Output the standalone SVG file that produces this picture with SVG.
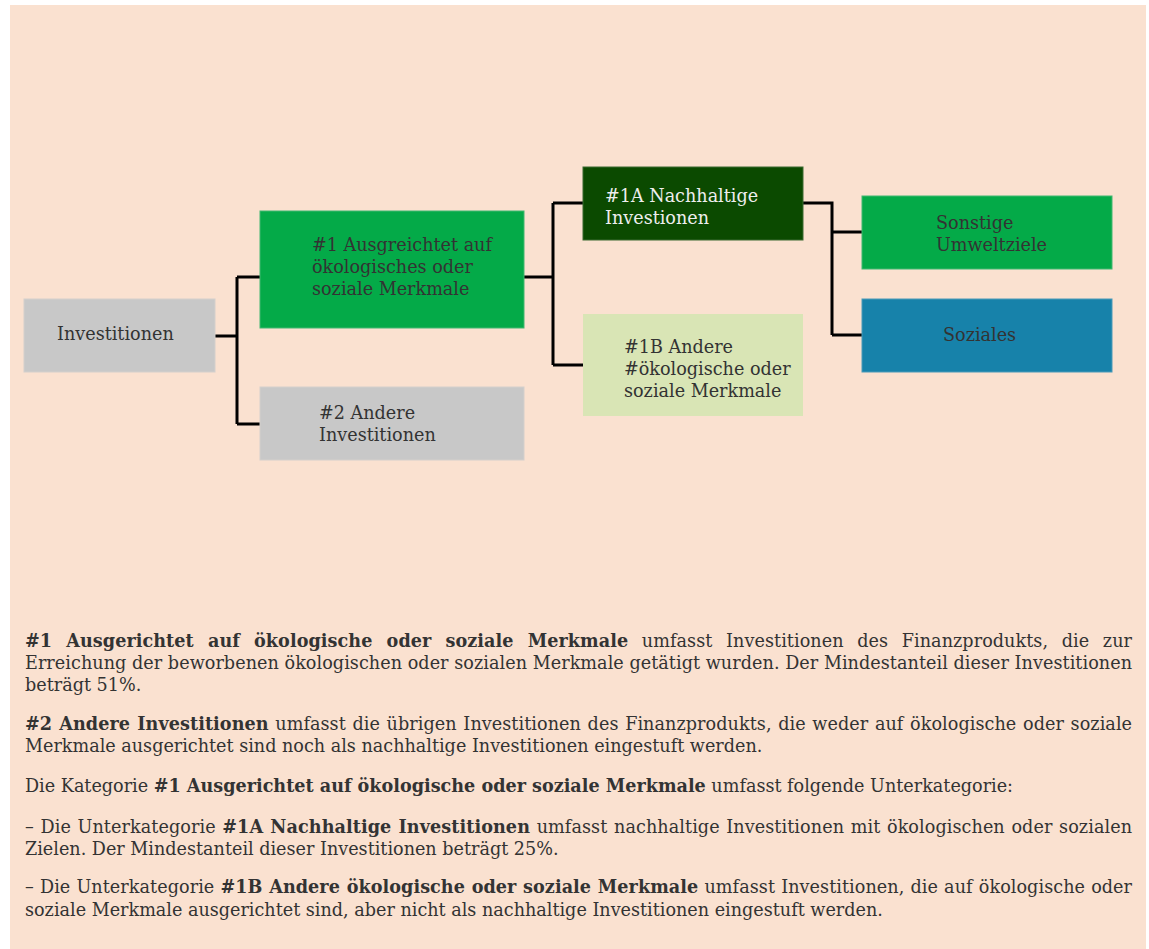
<svg xmlns="http://www.w3.org/2000/svg" width="1149" height="949" viewBox="0 0 1149 949">
<style>
text{font-family:"DejaVu Serif","Liberation Serif",serif;font-size:17.6px;fill:#333333}
.b{font-weight:bold}
.w{fill:#EEEEEE}
.conn{fill:none;stroke:#000000;stroke-width:3}
</style>
<rect x="0" y="0" width="1149" height="949" fill="#FFFFFF"/>
<rect x="10" y="5" width="1136" height="944" fill="#FAE1D0"/>
<g id="connectors" class="conn">
<path d="M215 336H237M237 277V424M237 277H260M237 424H260"/>
<path d="M524 277H553M553 203V365M553 203H583M553 365H583"/>
<path d="M803 203H832V335M832 232H862M832 335H862"/>
</g>
<g id="n-investitionen"><rect x="24" y="299" width="191" height="73" fill="#C8C8C8" stroke="#D4D0CC"/><text x="57" y="340">Investitionen</text></g>
<g id="n-1"><rect x="260" y="211" width="264" height="117" fill="#04AA48" stroke="#40B870"/><text x="312" y="251">#1 Ausgreichtet auf</text><text x="312" y="273">ökologisches oder</text><text x="312" y="295">soziale Merkmale</text></g>
<g id="n-2"><rect x="260" y="387" width="264" height="73" fill="#C8C8C8" stroke="#D4D0CC"/><text x="319" y="419">#2 Andere</text><text x="319" y="441">Investitionen</text></g>
<g id="n-1a"><rect x="583" y="167" width="220" height="73" fill="#0B4A00" stroke="#3A6A30"/><text class="w" x="605" y="202">#1A Nachhaltige</text><text class="w" x="605" y="224">Investionen</text></g>
<g id="n-1b"><rect x="583" y="314" width="220" height="102" fill="#D9E5B5"/><text x="624" y="353">#1B Andere</text><text x="624" y="375">#ökologische oder</text><text x="624" y="397">soziale Merkmale</text></g>
<g id="n-sonstige"><rect x="862" y="196" width="250" height="73" fill="#04AA48" stroke="#40B870"/><text x="936" y="229">Sonstige</text><text x="936" y="251">Umweltziele</text></g>
<g id="n-soziales"><rect x="862" y="299" width="250" height="73" fill="#1782AA" stroke="#4A9AB8"/><text x="943" y="341">Soziales</text></g>
<g id="legend">
<text x="25" y="647" word-spacing="8" textLength="1107" lengthAdjust="spacing"><tspan class="b">#1 Ausgerichtet auf ökologische oder soziale Merkmale</tspan> umfasst Investitionen des Finanzprodukts, die zur</text>
<text x="25" y="669" textLength="1107" lengthAdjust="spacing">Erreichung der beworbenen ökologischen oder sozialen Merkmale getätigt wurden. Der Mindestanteil dieser Investitionen</text>
<text x="25" y="691">beträgt 51%.</text>
<text x="25" y="730" word-spacing="1" textLength="1107" lengthAdjust="spacing"><tspan class="b">#2 Andere Investitionen</tspan> umfasst die übrigen Investitionen des Finanzprodukts, die weder auf ökologische oder soziale</text>
<text x="25" y="752">Merkmale ausgerichtet sind noch als nachhaltige Investitionen eingestuft werden.</text>
<text x="25" y="792">Die Kategorie <tspan class="b">#1 Ausgerichtet auf ökologische oder soziale Merkmale</tspan> umfasst folgende Unterkategorie:</text>
<text x="25" y="833" word-spacing="1" textLength="1107" lengthAdjust="spacing">– Die Unterkategorie <tspan class="b">#1A Nachhaltige Investitionen</tspan> umfasst nachhaltige Investitionen mit ökologischen oder sozialen</text>
<text x="25" y="855">Zielen. Der Mindestanteil dieser Investitionen beträgt 25%.</text>
<text x="25" y="893" word-spacing="0.5" textLength="1107" lengthAdjust="spacing">– Die Unterkategorie <tspan class="b">#1B Andere ökologische oder soziale Merkmale</tspan> umfasst Investitionen, die auf ökologische oder</text>
<text x="25" y="916">soziale Merkmale ausgerichtet sind, aber nicht als nachhaltige Investitionen eingestuft werden.</text>
</g>
</svg>
